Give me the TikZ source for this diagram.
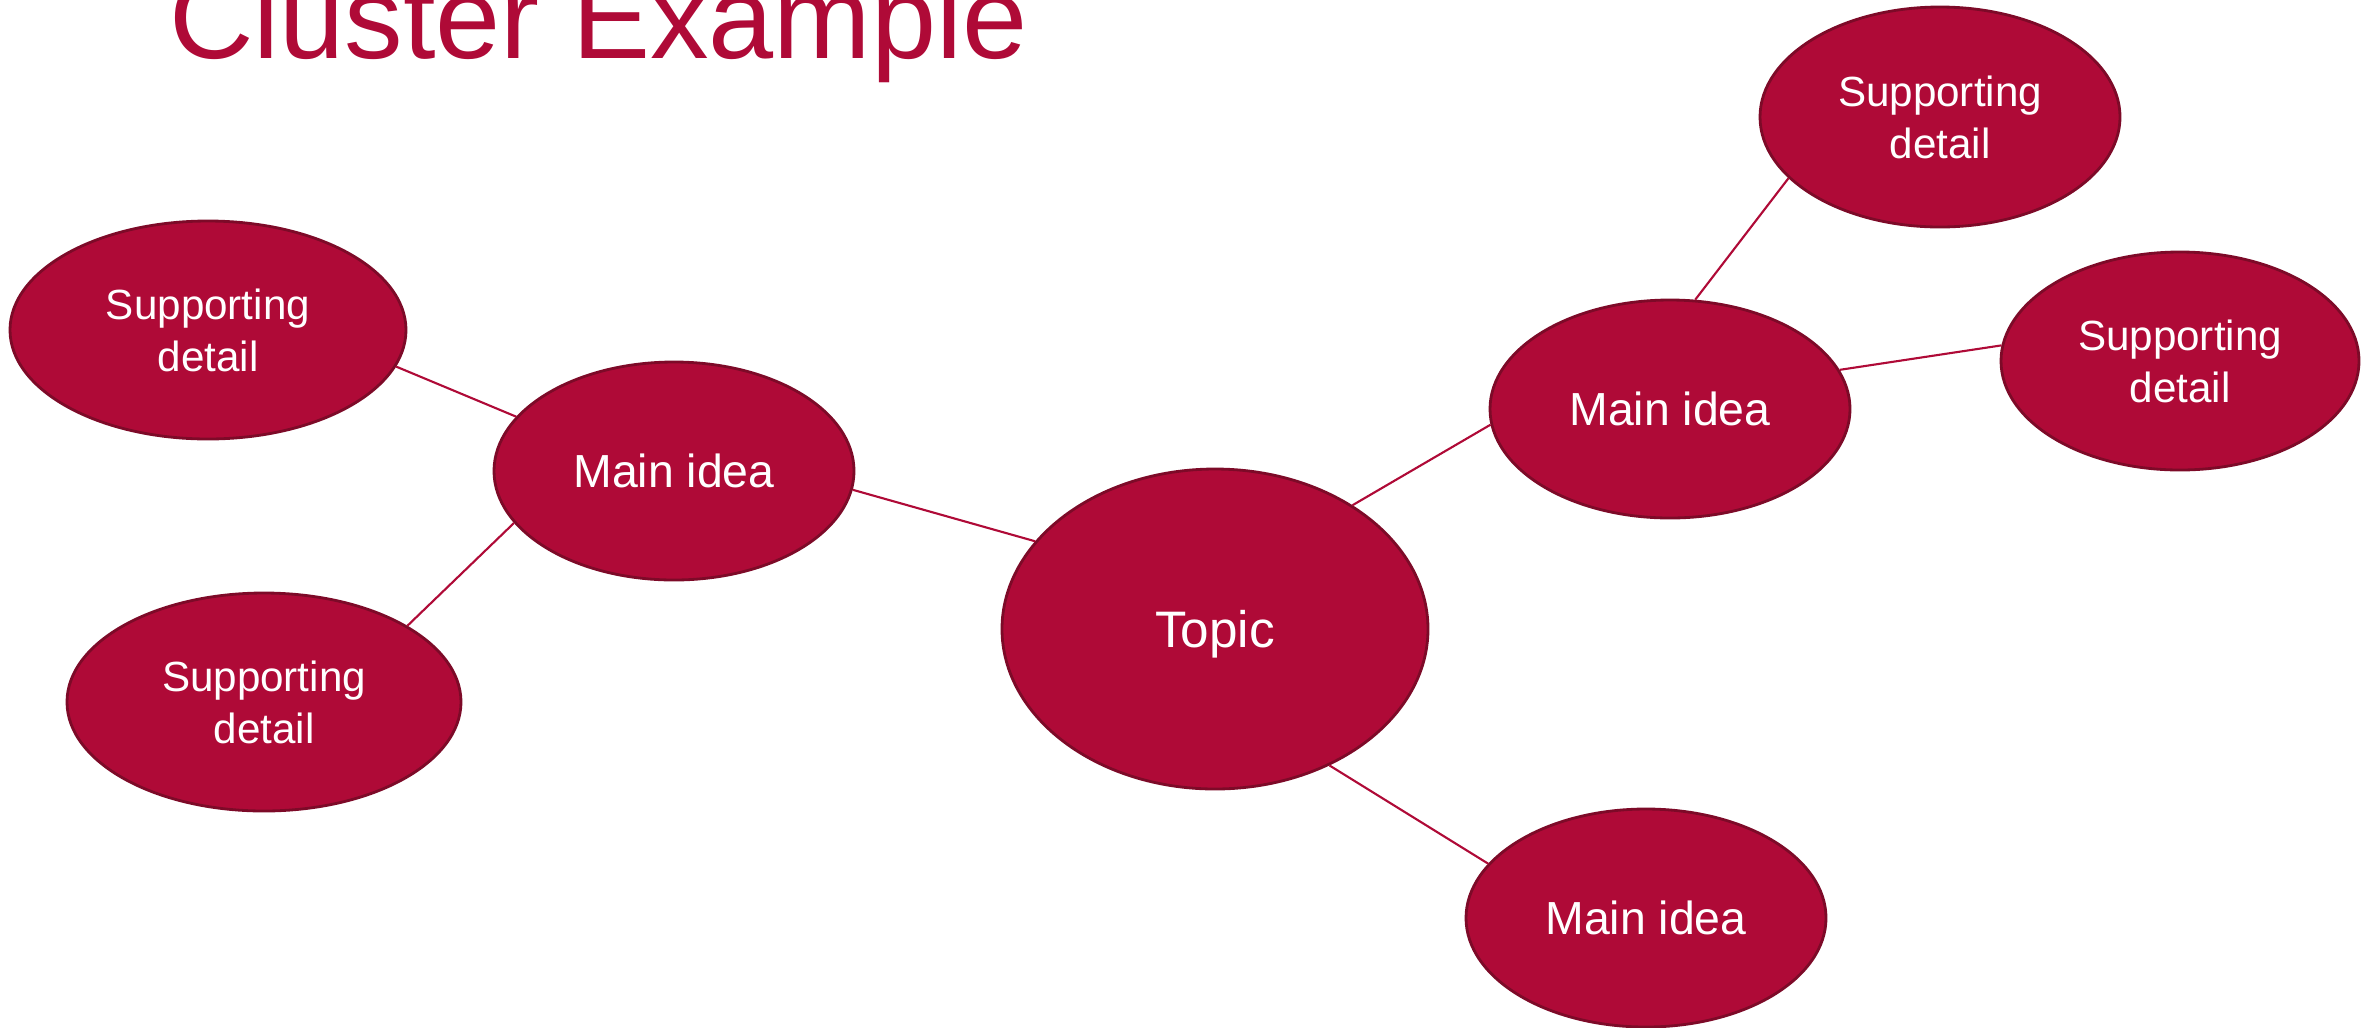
\documentclass[tikz,border=0pt]{standalone}
\usepackage{fontspec}
\setmainfont{Liberation Sans}
\usepackage{tikz}
\usetikzlibrary{positioning}
\usetikzlibrary{shapes.geometric}
\definecolor{clusterred}{RGB}{175,10,55}
\definecolor{clusteredge}{RGB}{125,10,40}
\tikzset{main node/.style={ellipse,fill=clusterred,draw=clusteredge,line width=0.8pt,text=white,inner sep=0pt},
	topic node/.style={main node,minimum width=4.26cm,minimum height=3.2cm,text depth=0pt,font=\fontsize{14.6}{17}\selectfont},
	idea node/.style={main node,minimum width=3.6cm,minimum height=2.18cm,font=\fontsize{13.2}{16}\selectfont},
	detail node/.style={main node,minimum height=2.18cm,align=center,font=\fontsize{12}{14.8}\selectfont},}

\begin{document}
\begin{tikzpicture}[auto, on grid, semithick]
	\useasboundingbox (0,0) rectangle (23.76,-10.27);
	\node[anchor=base west, text=clusterred, inner sep=0pt, font=\fontsize{33.3}{40}\selectfont] (title) at (1.68,-0.58) {Cluster Example};

	\node[topic node] (topic) at (12.15,-6.29) {Topic};
	\node[idea node] (ideaL) [above left=1.58cm and 5.41cm of topic] {Main idea};
	\node[idea node] (ideaR) [above right=2.2cm and 4.55cm of topic] {Main idea};
	\node[idea node] (ideaB) [below right=2.89cm and 4.31cm of topic] {Main idea};
	\node[detail node, minimum width=3.96cm] (detTL) [above left=1.41cm and 4.66cm of ideaL] {Supporting\\detail};
	\node[detail node, minimum width=3.94cm] (detBL) [below left=2.31cm and 4.1cm of ideaL] {Supporting\\detail};
	\node[detail node, minimum width=3.6cm, minimum height=2.2cm] (detTR) [above right=2.92cm and 2.7cm of ideaR] {Supporting\\detail};
	\node[detail node, minimum width=3.58cm] (detR) [above right=0.48cm and 5.1cm of ideaR] {Supporting\\detail};

	\path[draw, clusterred, line width=0.6pt]
	(detTL.-11) edge (ideaL.161)
	(detBL.28) edge (ideaL.198)
	(ideaL.-6) edge (topic.154)
	(topic.42) edge (ideaR.185)
	(ideaR.77) edge (detTR.202)
	(ideaR.13) edge (detR.175)
	(topic.-50) edge (ideaB.161);
\end{tikzpicture}
\end{document}
